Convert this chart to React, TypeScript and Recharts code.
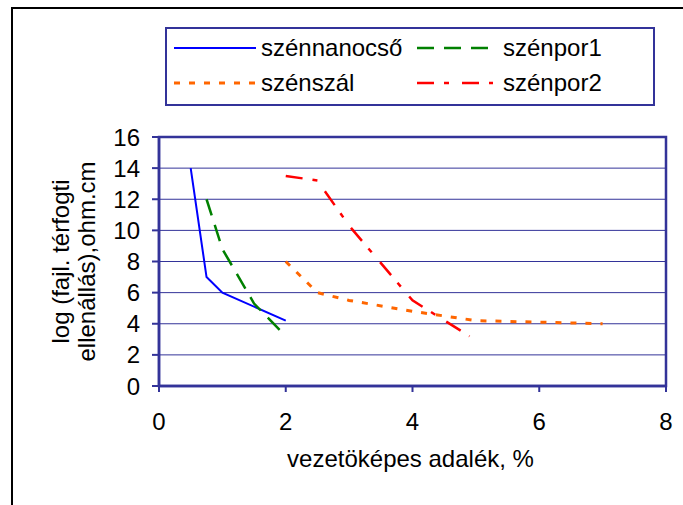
import React from 'react'
import { LineChart, Line, XAxis, YAxis, CartesianGrid, ReferenceArea, Legend, Label } from 'recharts'

// series values
const nanoX = [0.5, 0.75, 1, 2]
const nanoY = [14, 7, 6, 4.2]

const por1X = [0.75, 1, 1.5, 2]
const por1Y = [12, 8.8, 5.3, 3.2]

const szalX = [2, 2.5, 3, 4, 5, 7]
const szalY = [8, 6, 5.5, 4.8, 4.2, 4]

const por2X = [2, 2.5, 3, 4, 4.9]
const por2Y = [13.5, 13.2, 10.3, 5.5, 3.2]

const xTicks = [0, 2, 4, 6, 8]
const yTicks = [0, 2, 4, 6, 8, 10, 12, 14, 16]

const xTitle = 'vezetöképes adalék, %'
const yTitle = ['log (fajl. térfogti', 'ellenállás),ohm.cm']

const FONT = "'Liberation Sans', Arial, sans-serif"
const AXIS = '#333399'

const toPoints = (xs: number[], ys: number[]) => xs.map((x, i) => ({ x, y: ys[i] }))

const series = [
    { name: 'szénnanocső', data: toPoints(nanoX, nanoY), color: '#0000FF', width: 2, dash: undefined as string | undefined },
    { name: 'szénpor1', data: toPoints(por1X, por1Y), color: '#008000', width: 2.5, dash: '17 10' },
    { name: 'szénszál', data: toPoints(szalX, szalY), color: '#FF6600', width: 3, dash: '6 9' },
    { name: 'szénpor2', data: toPoints(por2X, por2Y), color: '#FF0000', width: 2.5, dash: '17 10 5 13' },
]

function LegendBox() {
    // 2 x 2 grid: row 1 nanocső / por1, row 2 szál / por2
    const cells = [
        { s: series[0], lx: 7, lw: 82, tx: 94, cy: 19 },
        { s: series[1], lx: 250, lw: 76, tx: 336, cy: 19 },
        { s: series[2], lx: 7, lw: 82, tx: 94, cy: 54 },
        { s: series[3], lx: 250, lw: 76, tx: 336, cy: 54 },
    ]
    return (
        <svg width={486} height={75} style={{ display: 'block' }}>
            {cells.map(c => (
                <g key={c.s.name}>
                    <line x1={c.lx} x2={c.lx + c.lw} y1={c.cy} y2={c.cy}
                        stroke={c.s.color} strokeWidth={c.s.width} strokeDasharray={c.s.dash} />
                    <text x={c.tx} y={c.cy + 8} fontSize={24} fontFamily={FONT} fill="#000">{c.s.name}</text>
                </g>
            ))}
        </svg>
    )
}

export default function App() {
    return (
        <div style={{ position: 'absolute', left: 0, top: 0, width: 683, height: 505, overflow: 'hidden', background: '#fff' }}>
            <div style={{ position: 'absolute', left: 11, top: 7, width: 700, height: 520, border: '2px solid #000' }} />
            <LineChart width={683} height={505} margin={{ top: 137, right: 17, left: 0, bottom: 0 }}
                style={{ position: 'absolute', left: 0, top: 0 }}>
                <CartesianGrid vertical={false} stroke={AXIS} strokeWidth={1} />
                <ReferenceArea x1={0} x2={8} y1={0} y2={16} fill="none" fillOpacity={0} stroke={AXIS} strokeWidth={2.5} />
                <XAxis type="number" dataKey="x" domain={[0, 8]} ticks={xTicks} interval={0} height={119}
                    axisLine={{ stroke: AXIS, strokeWidth: 2.5 }} tickLine={{ stroke: AXIS, strokeWidth: 2 }}
                    tickSize={6} tickMargin={21}
                    tick={{ fill: '#000', fontSize: 24, fontFamily: FONT }}>
                    <Label content={(props: any) => {
                        const vb = props.viewBox
                        return (
                            <text x={vb.x + vb.width / 2 - 2} y={vb.y + 81} textAnchor="middle"
                                fontSize={24} fontFamily={FONT} fill="#000">{xTitle}</text>
                        )
                    }} />
                </XAxis>
                <YAxis type="number" dataKey="y" domain={[0, 16]} ticks={yTicks} interval={0} width={159}
                    axisLine={{ stroke: AXIS, strokeWidth: 2.5 }} tickLine={{ stroke: AXIS, strokeWidth: 2 }}
                    tickSize={7} tickMargin={12}
                    tick={{ fill: '#000', fontSize: 24, fontFamily: FONT }}>
                    <Label content={(props: any) => {
                        const vb = props.viewBox
                        const cy = vb.y + vb.height / 2
                        return (
                            <g>
                                {yTitle.map((t, i) => {
                                    const x = vb.x + 69 + i * 26
                                    return (
                                        <text key={t} x={x} y={cy} transform={`rotate(-90 ${x} ${cy})`} textAnchor="middle"
                                            fontSize={24} fontFamily={FONT} fill="#000">{t}</text>
                                    )
                                })}
                            </g>
                        )
                    }} />
                </YAxis>
                <Legend layout="vertical" align="center" verticalAlign="middle"
                    wrapperStyle={{ left: 165, top: 27, width: 486, height: 75, border: `2px solid ${AXIS}`, background: '#fff' }}
                    content={() => <LegendBox />} />
                {series.map(s => (
                    <Line key={s.name} name={s.name} data={s.data} dataKey="y" type="linear"
                        stroke={s.color} strokeWidth={s.width} strokeDasharray={s.dash}
                        dot={false} activeDot={false} isAnimationActive={false} />
                ))}
            </LineChart>
        </div>
    )
}
